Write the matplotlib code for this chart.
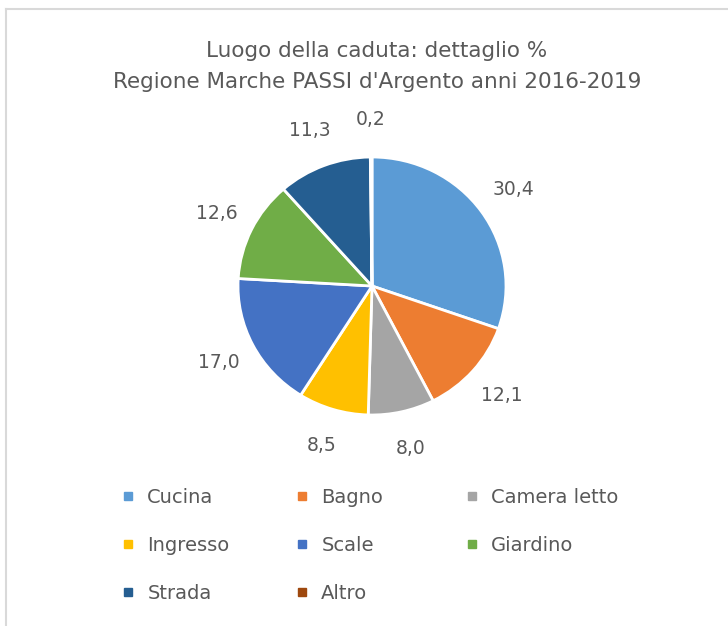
import matplotlib.pyplot as plt
from matplotlib.lines import Line2D

categories = ["Cucina", "Bagno", "Camera letto", "Ingresso", "Scale", "Giardino", "Strada", "Altro"]
values = [30.4, 12.1, 8.0, 8.5, 17.0, 12.6, 11.3, 0.2]
colors = ["#5B9BD5", "#ED7D31", "#A5A5A5", "#FFC000", "#4472C4", "#70AD47", "#255E91", "#9E480E"]
title = "Luogo della caduta: dettaglio %\nRegione Marche PASSI d'Argento anni 2016-2019"

plt.rcParams["font.family"] = ["DejaVu Sans"]
text_color = "#595959"

W, H = 728, 626
fig = plt.figure(figsize=(W / 100, H / 100), dpi=100)

# pie axes: centre ~ (372, 286) px, radii ~ 134 x 129 px (reference is slightly squashed)
aw, ah = 3 * 134, 3 * 129
ax = fig.add_axes([(372 - aw / 2) / W, 1 - (286 + ah / 2) / H, aw / W, ah / H])
labels = [f"{v:.1f}".replace(".", ",") for v in values]
wedges, texts = ax.pie(values, colors=colors, startangle=90, counterclock=False,
                       labels=labels, labeldistance=1.29,
                       wedgeprops=dict(edgecolor="white", linewidth=2),
                       textprops=dict(color=text_color, fontsize=13.5))
for t in texts:
    t.set_ha("center")
    t.set_va("center")
ax.set_xlim(-1.5, 1.5)
ax.set_ylim(-1.5, 1.5)
ax.set_aspect("auto")
ax.axis("off")

fig.text(377 / W, 1 - 66.5 / H, title, ha="center", va="center", fontsize=15.5,
         color=text_color, linespacing=1.68)

# legend: 3 columns, filled row by row, equally spaced columns
col_x = [122, 296, 466]
for c, x in enumerate(col_x):
    idx = list(range(c, len(categories), 3))
    handles = [Line2D([], [], marker="s", linestyle="none", markersize=6,
                      markerfacecolor=colors[i], markeredgecolor=colors[i]) for i in idx]
    fig.legend(handles, [categories[i] for i in idx], loc="upper left",
               bbox_to_anchor=(x / W, 1 - 488 / H), frameon=False,
               fontsize=14, labelcolor=text_color, handlelength=0.6,
               handletextpad=0.7, labelspacing=1.49, borderpad=0,
               borderaxespad=0)

# chart frame (left and top edges visible)
fig.add_artist(Line2D([6 / W, 6 / W], [0, 1 - 9 / H], color="#D9D9D9", linewidth=1.5))
fig.add_artist(Line2D([6 / W, 1], [1 - 9 / H, 1 - 9 / H], color="#D9D9D9", linewidth=1.5))

fig.savefig("out.png", dpi=100, facecolor="white")
